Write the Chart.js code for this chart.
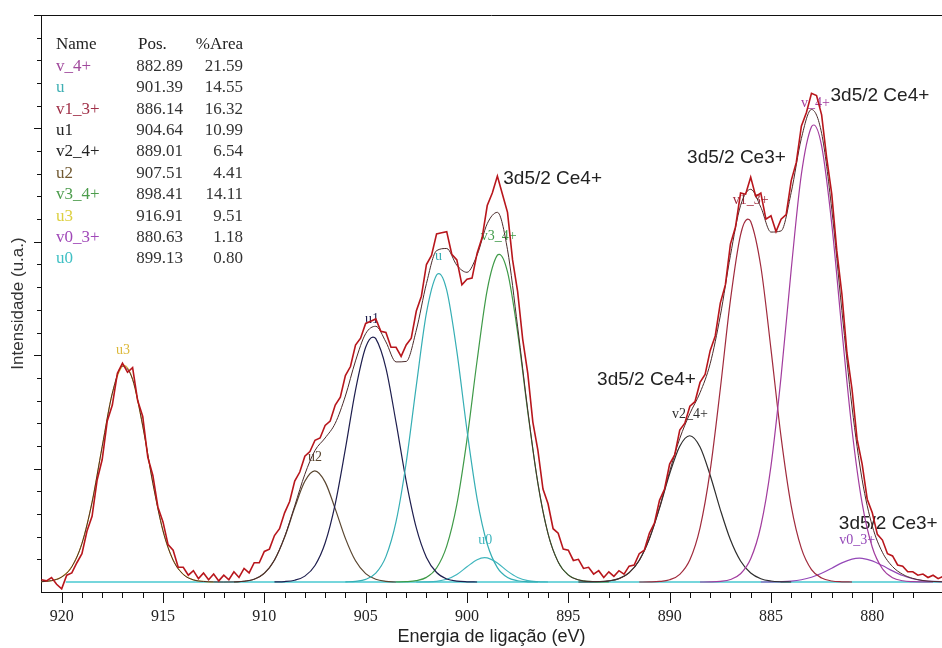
<!DOCTYPE html>
<html>
<head>
<meta charset="utf-8">
<script src="https://cdn.jsdelivr.net/npm/chart.js@4.4.0/dist/chart.umd.min.js"></script>
<style>
  html, body { margin: 0; padding: 0; background: #fff; }
  #wrap { width: 942px; height: 648px; }
</style>
</head>
<body>
<div id="wrap"><canvas id="xps" width="942" height="648"></canvas></div>
<script>
// Ce 3d XPS spectrum, fitted components (binding energy in eV, intensity in a.u.)

// fit table
const names = ['v_4+', 'u', 'v1_3+', 'u1', 'v2_4+', 'u2', 'v3_4+', 'u3', 'v0_3+', 'u0'];
const positions = ['882.89', '901.39', '886.14', '904.64', '889.01', '907.51', '898.41', '916.91', '880.63', '899.13'];
const areas = ['21.59', '14.55', '16.32', '10.99', '6.54', '4.41', '14.11', '9.51', '1.18', '0.80'];

// measured spectrum [energy, intensity]
const measured = [
  [921, 0.02], [920.75, 0.01], [920.5, 0.04], [920.25, -0.02], [920, -0.06], [919.75, 0.06], [919.5, 0.08], [919.25, 0.17],
  [919, 0.25], [918.75, 0.45], [918.5, 0.58], [918.25, 0.90], [918, 1.08], [917.75, 1.42], [917.5, 1.56], [917.25, 1.84],
  [917, 1.93], [916.75, 1.85], [916.5, 1.89], [916.25, 1.60], [916, 1.46], [915.75, 1.10], [915.5, 0.94], [915.25, 0.66],
  [915, 0.53], [914.75, 0.33], [914.5, 0.28], [914.25, 0.13], [914, 0.13], [913.75, 0.06], [913.5, 0.10], [913.25, 0.03],
  [913, 0.08], [912.75, 0.02], [912.5, 0.07], [912.25, 0.01], [912, 0.06], [911.75, 0.02], [911.5, 0.09], [911.25, 0.04],
  [911, 0.12], [910.75, 0.08], [910.5, 0.17], [910.25, 0.17], [910, 0.27], [909.75, 0.29], [909.5, 0.41], [909.25, 0.47],
  [909, 0.61], [908.75, 0.71], [908.5, 0.89], [908.25, 0.97], [908, 1.11], [907.75, 1.15], [907.5, 1.25], [907.25, 1.27],
  [907, 1.38], [906.75, 1.42], [906.5, 1.56], [906.25, 1.63], [906, 1.82], [905.75, 1.90], [905.5, 2.09], [905.25, 2.15],
  [905, 2.28], [904.75, 2.30], [904.5, 2.32], [904.25, 2.21], [904, 2.20], [903.75, 2.07], [903.5, 2.07], [903.25, 1.99],
  [903, 2.09], [902.75, 2.15], [902.5, 2.39], [902.25, 2.52], [902, 2.80], [901.75, 2.88], [901.5, 3.07], [901.25, 3.08],
  [901, 3.09], [900.75, 2.89], [900.5, 2.84], [900.25, 2.62], [900, 2.67], [899.75, 2.68], [899.5, 2.90], [899.25, 3.04],
  [899, 3.32], [898.75, 3.43], [898.5, 3.58], [898.25, 3.42], [898, 3.26], [897.75, 2.84], [897.5, 2.56], [897.25, 2.14],
  [897, 1.84], [896.75, 1.41], [896.5, 1.16], [896.25, 0.82], [896, 0.69], [895.75, 0.47], [895.5, 0.43], [895.25, 0.29],
  [895, 0.28], [894.75, 0.19], [894.5, 0.20], [894.25, 0.12], [894, 0.13], [893.75, 0.07], [893.5, 0.10], [893.25, 0.04],
  [893, 0.09], [892.75, 0.05], [892.5, 0.10], [892.25, 0.07], [892, 0.14], [891.75, 0.15], [891.5, 0.25], [891.25, 0.28],
  [891, 0.43], [890.75, 0.52], [890.5, 0.72], [890.25, 0.82], [890, 1.04], [889.75, 1.12], [889.5, 1.34], [889.25, 1.40],
  [889, 1.55], [888.75, 1.59], [888.5, 1.76], [888.25, 1.83], [888, 2.04], [887.75, 2.17], [887.5, 2.46], [887.25, 2.62],
  [887, 2.98], [886.75, 3.13], [886.5, 3.43], [886.25, 3.42], [886, 3.57], [885.75, 3.40], [885.5, 3.43], [885.25, 3.20],
  [885, 3.23], [884.75, 3.09], [884.5, 3.20], [884.25, 3.24], [884, 3.54], [883.75, 3.70], [883.5, 4.02], [883.25, 4.14],
  [883, 4.31], [882.75, 4.29], [882.5, 4.12], [882.25, 3.74], [882, 3.42], [881.75, 2.92], [881.5, 2.54], [881.25, 2.02],
  [881, 1.70], [880.75, 1.26], [880.5, 1.04], [880.25, 0.73], [880, 0.61], [879.75, 0.42], [879.5, 0.37], [879.25, 0.25],
  [879, 0.23], [878.75, 0.15], [878.5, 0.14], [878.25, 0.09], [878, 0.09], [877.75, 0.06], [877.5, 0.07], [877.25, 0.04],
  [877, 0.06], [876.75, 0.03], [876.5, 0.05]
];

// fit envelope
const envelope = [
  [921, 0.003], [920.5, 0.012], [920, 0.044], [919.5, 0.135], [919, 0.340], [918.5, 0.704], [918, 1.195], [917.5, 1.665],
  [917, 1.904], [916.5, 1.787], [916, 1.377], [915.5, 0.871], [915, 0.452], [914.5, 0.193], [914, 0.067], [913.5, 0.019],
  [913, 0.005], [912.5, 0.001], [912, 0], [911.5, 0.001], [911, 0.007], [910.5, 0.025], [910, 0.077], [909.5, 0.194],
  [909, 0.398], [908.5, 0.672], [908, 0.950], [907.5, 1.160], [907, 1.270], [906.5, 1.400], [906, 1.640], [905.5, 1.950],
  [905, 2.190], [904.5, 2.255], [904, 2.117], [903.5, 1.941], [903, 1.945], [902.5, 2.221], [902, 2.632], [901.5, 2.922],
  [901, 2.941], [900.5, 2.793], [900, 2.731], [899.5, 2.884], [899, 3.160], [898.5, 3.260], [898, 2.930], [897.5, 2.250],
  [897, 1.515], [896.5, 0.871], [896, 0.426], [895.5, 0.177], [895, 0.062], [894.5, 0.019], [894, 0.006], [893.5, 0.004],
  [893, 0.010], [892.5, 0.030], [892, 0.082], [891.5, 0.191], [891, 0.382], [890.5, 0.656], [890, 0.974], [889.5, 1.266],
  [889, 1.486], [888.5, 1.669], [888, 1.925], [887.5, 2.347], [887, 2.880], [886.5, 3.320], [886, 3.463], [885.5, 3.305],
  [885, 3.086], [884.5, 3.096], [884, 3.436], [883.5, 3.911], [883, 4.167], [882.5, 3.957], [882, 3.288], [881.5, 2.394],
  [881, 1.543], [880.5, 0.902], [880, 0.494], [879.5, 0.262], [879, 0.136], [878.5, 0.068], [878, 0.032], [877.5, 0.013],
  [877, 0.005], [876.5, 0.002]
];

// fitted components, same order as names
const v4Pts = [[888.5, 0], [888, 0.001], [887.5, 0.006], [887, 0.022], [886.5, 0.073], [886, 0.205], [885.5, 0.494], [885, 1.022],
  [884.5, 1.813], [884, 2.757], [883.5, 3.594], [883, 4.015], [882.89, 4.03], [882.5, 3.845], [882, 3.157], [881.5, 2.223],
  [881, 1.341], [880.5, 0.693], [880, 0.307], [879.5, 0.117], [879, 0.038], [878.5, 0.011], [878, 0.003], [877.5, 0.001], [877, 0]];
const uPts = [[906, 0.001], [905.5, 0.006], [905, 0.023], [904.5, 0.078], [904, 0.224], [903.5, 0.532], [903, 1.052], [902.5, 1.732],
  [902, 2.373], [901.5, 2.708], [901.39, 2.72], [901, 2.573], [900.5, 2.034], [900, 1.339], [899.5, 0.734], [899, 0.335],
  [898.5, 0.127], [898, 0.040], [897.5, 0.011], [897, 0.002], [896.5, 0]];
const v13Pts = [[891.5, 0], [891, 0.001], [890.5, 0.005], [890, 0.020], [889.5, 0.068], [889, 0.196], [888.5, 0.478], [888, 0.982],
  [887.5, 1.702], [887, 2.486], [886.5, 3.062], [886.14, 3.20], [886, 3.179], [885.5, 2.782], [885, 2.054], [884.5, 1.278],
  [884, 0.670], [883.5, 0.297], [883, 0.110], [882.5, 0.035], [882, 0.009], [881.5, 0.002], [881, 0]];
const u1Pts = [[909.5, 0.001], [909, 0.004], [908.5, 0.016], [908, 0.052], [907.5, 0.146], [907, 0.344], [906.5, 0.690], [906, 1.174],
  [905.5, 1.693], [905, 2.070], [904.64, 2.16], [904.5, 2.146], [904, 1.887], [903.5, 1.407], [903, 0.890], [902.5, 0.477],
  [902, 0.217], [901.5, 0.084], [901, 0.027], [900.5, 0.008], [900, 0.002], [899.5, 0]];
const v24Pts = [[894.5, 0], [894, 0.001], [893.5, 0.003], [893, 0.010], [892.5, 0.030], [892, 0.082], [891.5, 0.191], [891, 0.381],
  [890.5, 0.651], [890, 0.954], [889.5, 1.198], [889.01, 1.29], [888.5, 1.191], [888, 0.942], [887.5, 0.639], [887, 0.372],
  [886.5, 0.185], [886, 0.079], [885.5, 0.029], [885, 0.009], [884.5, 0.002], [884, 0]];
const u2Pts = [[911.5, 0], [911, 0.007], [910.5, 0.025], [910, 0.077], [909.5, 0.193], [909, 0.394], [908.5, 0.656], [908, 0.888],
  [907.51, 0.98], [907, 0.881], [906.5, 0.645], [906, 0.385], [905.5, 0.187], [905, 0.074], [904.5, 0.024], [904, 0.006], [903.5, 0]];
const v34Pts = [[903.5, 0.001], [903, 0.003], [902.5, 0.012], [902, 0.041], [901.5, 0.124], [901, 0.317], [900.5, 0.685], [900, 1.256],
  [899.5, 1.953], [899, 2.577], [898.5, 2.882], [898.41, 2.89], [898, 2.734], [897.5, 2.199], [897, 1.501], [896.5, 0.868],
  [896, 0.426], [895.5, 0.177], [895, 0.062], [894.5, 0.019], [894, 0.005], [893.5, 0.001], [893, 0]];
const u3Pts = [[921, 0.003], [920.5, 0.012], [920, 0.044], [919.5, 0.135], [919, 0.340], [918.5, 0.704], [918, 1.195], [917.5, 1.665],
  [917, 1.904], [916.91, 1.91], [916.5, 1.787], [916, 1.377], [915.5, 0.871], [915, 0.452], [914.5, 0.193], [914, 0.067],
  [913.5, 0.019], [913, 0.005], [912.5, 0]];
const v03Pts = [[885.5, 0], [885, 0.001], [884.5, 0.003], [884, 0.008], [883.5, 0.020], [883, 0.042], [882.5, 0.077], [882, 0.122],
  [881.5, 0.169], [881, 0.202], [880.63, 0.21], [880.5, 0.209], [880, 0.187], [879.5, 0.145], [879, 0.098], [878.5, 0.057],
  [878, 0.029], [877.5, 0.012], [877, 0.005], [876.5, 0.002]];
const u0Pts = [[902.5, 0], [902, 0.001], [901.5, 0.006], [901, 0.024], [900.5, 0.066], [900, 0.134], [899.5, 0.197], [899.13, 0.215],
  [899, 0.213], [898.5, 0.168], [898, 0.096], [897.5, 0.040], [897, 0.012], [896.5, 0.003], [896, 0]];
const components = [v4Pts, uPts, v13Pts, u1Pts, v24Pts, u2Pts, v34Pts, u3Pts, v03Pts, u0Pts];

const baseline = [[919.8, 0], [876.5, 0]];

// where each component name sits on the plot
const tagE = [882.8, 901.4, 886.0, 904.69, 889.0, 907.5, 898.44, 916.97, 880.75, 899.1];
const tagI = [4.22, 2.87, 3.37, 2.32, 1.48, 1.10, 3.05, 2.04, 0.37, 0.37];

// peak assignments
const noteText = ['3d5/2 Ce4+', '3d5/2 Ce3+', '3d5/2 Ce4+', '3d5/2 Ce4+', '3d5/2 Ce3+'];
const noteE = [882.06, 889.14, 898.21, 893.58, 881.65];
const noteI = [4.29, 3.74, 3.56, 1.78, 0.515];

const colors = ['#a23c9e', '#35aeb4', '#a02a3c', '#1e1e4e', '#2e2e2e', '#5a4630', '#3f9a48', '#dcb838', '#9448b8', '#40b6be'];
const tableColors = ['#a0489c', '#40b0b4', '#a03048', '#222222', '#222222', '#705830', '#4c9c4c', '#ddd040', '#a048b8', '#40c0c4'];

const toXY = pts => pts.map(p => ({ x: p[0], y: p[1] }));

const datasets = [
  { data: toXY(measured), borderColor: '#b8161c', borderWidth: 1.6, tension: 0 },
  { data: toXY(envelope), borderColor: '#4a2a2a', borderWidth: 1, cubicInterpolationMode: 'monotone' }
];
components.forEach((pts, i) => {
  datasets.push({ data: toXY(pts), borderColor: colors[i], borderWidth: 1.2, cubicInterpolationMode: 'monotone' });
});
datasets.push({ data: toXY(baseline), borderColor: '#48c8d0', borderWidth: 1.5 });

const decor = {
  id: 'decor',
  beforeDatasetsDraw(chart) {
    const { ctx, scales: { x, y } } = chart;
    ctx.save();
    ctx.textAlign = 'center';
    ctx.textBaseline = 'middle';
    ctx.font = '14px "Liberation Serif", serif';
    names.forEach((n, i) => {
      ctx.fillStyle = colors[i];
      ctx.fillText(n, x.getPixelForValue(tagE[i]), y.getPixelForValue(tagI[i]));
    });
    ctx.textAlign = 'left';
    ctx.font = '19px "Liberation Sans", Arial, sans-serif';
    ctx.fillStyle = '#222';
    noteText.forEach((t, i) => {
      ctx.fillText(t, x.getPixelForValue(noteE[i]), y.getPixelForValue(noteI[i]));
    });
    ctx.restore();
  },
  afterDraw(chart) {
    const { ctx, chartArea: a, scales: { x, y } } = chart;
    ctx.save();
    ctx.strokeStyle = '#111';
    ctx.lineWidth = 1;
    // top frame
    ctx.beginPath();
    ctx.moveTo(a.left, a.top + 0.5);
    ctx.lineTo(a.right, a.top + 0.5);
    ctx.stroke();
    // tick marks
    ctx.beginPath();
    x.ticks.forEach(t => {
      const px = Math.round(x.getPixelForValue(t.value)) + 0.5;
      const len = t.value % 5 === 0 ? 11 : 6;
      ctx.moveTo(px, a.bottom);
      ctx.lineTo(px, a.bottom + len);
    });
    y.ticks.forEach(t => {
      const k = t.value / 0.2;
      if (t.value < -1e-9 || Math.abs(k - Math.round(k)) > 1e-6) return;
      const major = Math.abs(t.value - Math.round(t.value)) < 1e-6;
      const py = Math.round(y.getPixelForValue(t.value)) + 0.5;
      ctx.moveTo(a.left, py);
      ctx.lineTo(a.left - (major ? 7 : 4), py);
    });
    ctx.stroke();

    // fit table
    ctx.textBaseline = 'middle';
    ctx.font = '17px "Liberation Serif", serif';
    const top = 45, step = 21.4;
    ctx.fillStyle = '#222';
    ctx.textAlign = 'left';
    ctx.fillText('Name', 56, top);
    ctx.fillText('Pos.', 138, top);
    ctx.textAlign = 'right';
    ctx.fillText('%Area', 243, top);
    names.forEach((n, i) => {
      const ty = top + step * (i + 1);
      ctx.textAlign = 'left';
      ctx.fillStyle = tableColors[i];
      ctx.fillText(n, 56, ty);
      ctx.fillStyle = '#333';
      ctx.textAlign = 'right';
      ctx.fillText(positions[i], 183, ty);
      ctx.fillText(areas[i], 243, ty);
    });
    ctx.restore();
  }
};

new Chart(document.getElementById('xps'), {
  type: 'line',
  data: { datasets },
  options: {
    responsive: false,
    animation: false,
    devicePixelRatio: 1,
    layout: { padding: { top: 15, right: 0, left: 0, bottom: 0 } },
    elements: { point: { radius: 0 }, line: { fill: false } },
    plugins: { legend: { display: false }, tooltip: { enabled: false } },
    scales: {
      x: {
        type: 'linear',
        reverse: true,
        min: 876.56,
        max: 921.02,
        afterFit: s => { s.height = 56; },
        afterBuildTicks: s => { s.ticks = s.ticks.filter(t => Number.isInteger(t.value)); },
        grid: { display: false, drawTicks: false },
        border: { display: true, color: '#111', width: 1 },
        ticks: {
          stepSize: 1,
          autoSkip: false,
          maxRotation: 0,
          padding: 15,
          color: '#222',
          font: { family: '"Liberation Serif", serif', size: 16 },
          callback: v => (v % 5 === 0 ? String(v) : '')
        },
        title: {
          display: true,
          text: 'Energia de ligação (eV)',
          color: '#222',
          font: { family: '"Liberation Sans", Arial, sans-serif', size: 18 },
          padding: { top: 0, bottom: 0 }
        }
      },
      y: {
        type: 'linear',
        min: -0.088,
        max: 5.0,
        afterFit: s => { s.width = 41; },
        grid: { display: false, drawTicks: false },
        border: { display: true, color: '#111', width: 1 },
        ticks: { display: false, stepSize: 0.2 },
        title: {
          display: true,
          text: 'Intensidade (u.a.)',
          color: '#333',
          font: { family: '"Liberation Sans", Arial, sans-serif', size: 17 },
          padding: { top: 8, bottom: 0 }
        }
      }
    }
  },
  plugins: [decor]
});
</script>
</body>
</html>
